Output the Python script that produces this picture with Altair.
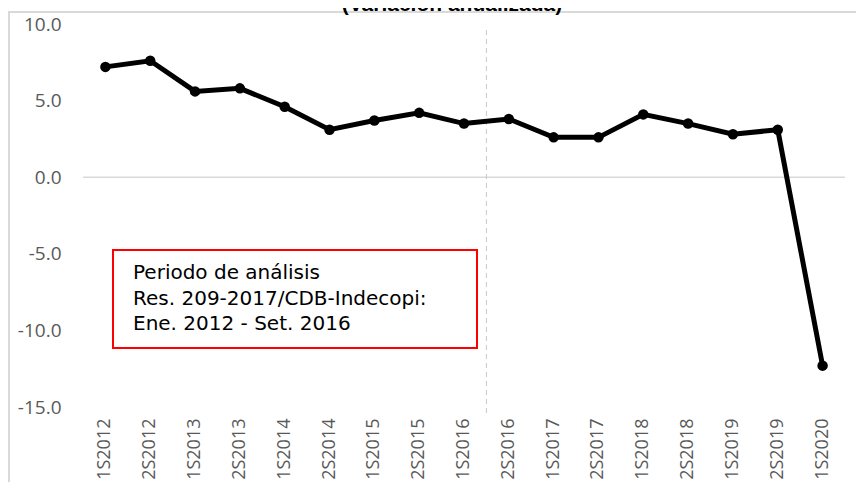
import altair as alt
import pandas as pd

# ---- data ----
periods = ["1S2012", "2S2012", "1S2013", "2S2013", "1S2014", "2S2014",
           "1S2015", "2S2015", "1S2016", "2S2016", "1S2017", "2S2017",
           "1S2018", "2S2018", "1S2019", "2S2019", "1S2020"]
values = [7.2, 7.6, 5.6, 5.8, 4.6, 3.1, 3.7, 4.2, 3.5, 3.8,
          2.6, 2.6, 4.1, 3.5, 2.8, 3.1, -12.3]
y_ticks = [-15, -10, -5, 0, 5, 10]
title_text = "(Variación anualizada)"
note_lines = ["Periodo de análisis", "Res. 209-2017/CDB-Indecopi:", "Ene. 2012 - Set. 2016"]
split_period = "2S2016"

# ---- layout ----
W, H = 762, 383
PAD = {"left": 75, "top": 16, "right": 11, "bottom": 75}
GRAY_TXT = "#595959"
GRAY_LINE = "#d9d9d9"

df = pd.DataFrame({"periodo": periods, "valor": values})
one = pd.DataFrame({"k": [0]})
split_df = pd.DataFrame({"periodo": [split_period]})

xscale = alt.Scale(type="band", paddingInner=0, paddingOuter=0, domain=periods)
x_enc = alt.X("periodo:N", sort=periods, scale=xscale,
              axis=alt.Axis(labelAngle=-90, labelFont="Open Sans", labelFontSize=18,
                            labelColor=GRAY_TXT, domain=False, ticks=False,
                            labelPadding=11, title=None, labelOverlap=False, grid=False))
y_enc = alt.Y("valor:Q", scale=alt.Scale(domain=[-15, 10], nice=False, zero=False),
              axis=alt.Axis(values=y_ticks,
                            labelExpr="(datum.value < 0 ? '-' : '') + format(abs(datum.value), '.1f')",
                            labelFont="Open Sans", labelFontSize=19, labelColor=GRAY_TXT,
                            domain=False, ticks=False, grid=False, labelPadding=22, title=None))

frame = alt.Chart(one).mark_rect(filled=False, stroke=GRAY_LINE, strokeWidth=2).encode(
    x=alt.value(-74), x2=alt.value(W + 40), y=alt.value(-12), y2=alt.value(H + 140))

zero_rule = alt.Chart(one).mark_rule(color=GRAY_LINE, strokeWidth=1.5).encode(
    y=alt.datum(0, scale=alt.Scale(domain=[-15, 10], nice=False, zero=False)))

split_rule = alt.Chart(split_df).mark_rule(color="#c8c8c8", strokeWidth=1, strokeDash=[5, 4]).encode(
    x=alt.X("periodo:N", sort=periods, scale=xscale, bandPosition=0),
    y=alt.value(6), y2=alt.value(391))

box = alt.Chart(one).mark_rect(fill="white", stroke="#ff0000", strokeWidth=2).encode(
    x=alt.value(30), x2=alt.value(394), y=alt.value(226), y2=alt.value(324))

note = alt.Chart(one).mark_text(align="left", baseline="alphabetic", font="DejaVu Sans",
                                fontSize=20, lineHeight=25.5, color="black").encode(
    x=alt.value(50), y=alt.value(255), text=alt.value(note_lines))

line = alt.Chart(df).mark_line(color="black", strokeWidth=5).encode(x=x_enc, y=y_enc)
pts = alt.Chart(df).mark_point(filled=True, size=110, color="black", opacity=1).encode(x=x_enc, y=y_enc)

title = alt.Chart(one).mark_text(align="center", baseline="alphabetic", font="Liberation Sans",
                                 fontSize=21, fontWeight="bold", color="black").encode(
    x=alt.value(369), y=alt.value(-13), text=alt.value(title_text))

chart = alt.layer(frame, zero_rule, split_rule, box, note, line, pts, title).properties(
    width=W, height=H, padding=PAD, autosize=alt.AutoSizeParams(type="none")
).configure_view(stroke=None)

chart.save("out.html", embed_options={"renderer": "svg", "actions": False})
